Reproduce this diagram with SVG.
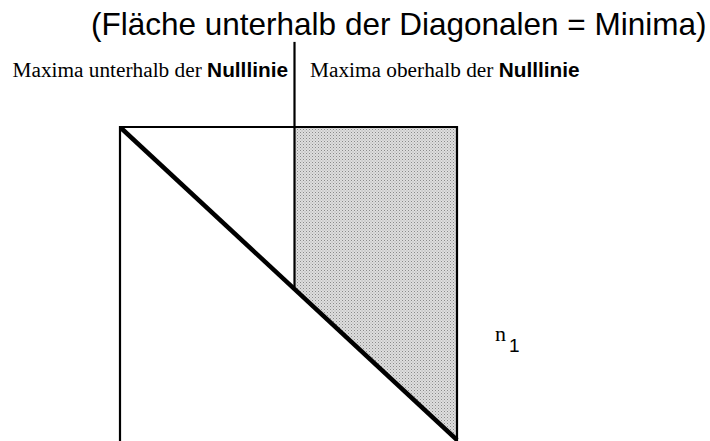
<svg xmlns="http://www.w3.org/2000/svg" width="710" height="441" viewBox="0 0 710 441">
<style>
.ln{stroke:#000;stroke-width:2.2;fill:none;stroke-linecap:square}
.diag{stroke:#000;stroke-width:4.5;fill:none}
.title{font-family:"Liberation Sans",Arial,sans-serif;font-size:31.5px;fill:#000}
.ser{font-family:"Liberation Serif","Times New Roman",serif;font-size:21.3px;fill:#000}
.bsans{font-family:"Liberation Sans",Arial,sans-serif;font-weight:bold;font-size:20.8px;fill:#000}
</style>
<defs>
<pattern id="stip" width="3" height="3" patternUnits="userSpaceOnUse">
<rect width="3" height="3" fill="#dedede"/>
<rect x="0" y="0" width="1" height="1" fill="#8a8a8a"/>
<rect x="1.5" y="1.5" width="1" height="1" fill="#a8a8a8"/>
</pattern>
</defs>
<rect width="710" height="441" fill="#fff"/>
<g id="title">
<text class="title" x="91" y="35">(Fläche unterhalb der Diagonalen = Minima)</text>
</g>
<g id="label-left">
<text x="288" y="77" text-anchor="end"><tspan class="ser">Maxima unterhalb der </tspan><tspan class="bsans">Nulllinie</tspan></text>
</g>
<g id="label-right">
<text x="310" y="77"><tspan class="ser">Maxima oberhalb der </tspan><tspan class="bsans">Nulllinie</tspan></text>
</g>
<g id="shaded-area">
<polygon points="295,128 457,128 457,439 295,287" fill="url(#stip)"/>
</g>
<g id="frame">
<polyline class="ln" points="120,441 120,127 457,127 457,441"/>
<line class="ln" x1="294.5" y1="43" x2="294.5" y2="286"/>
<line class="diag" x1="121" y1="128" x2="457" y2="440"/>
</g>
<g id="n1">
<text x="495" y="341" font-family="Liberation Serif, Times New Roman, serif" font-size="22" fill="#000">n<tspan font-family="Liberation Sans, Arial, sans-serif" font-size="19" dx="3" dy="11">1</tspan></text>
</g>
</svg>
